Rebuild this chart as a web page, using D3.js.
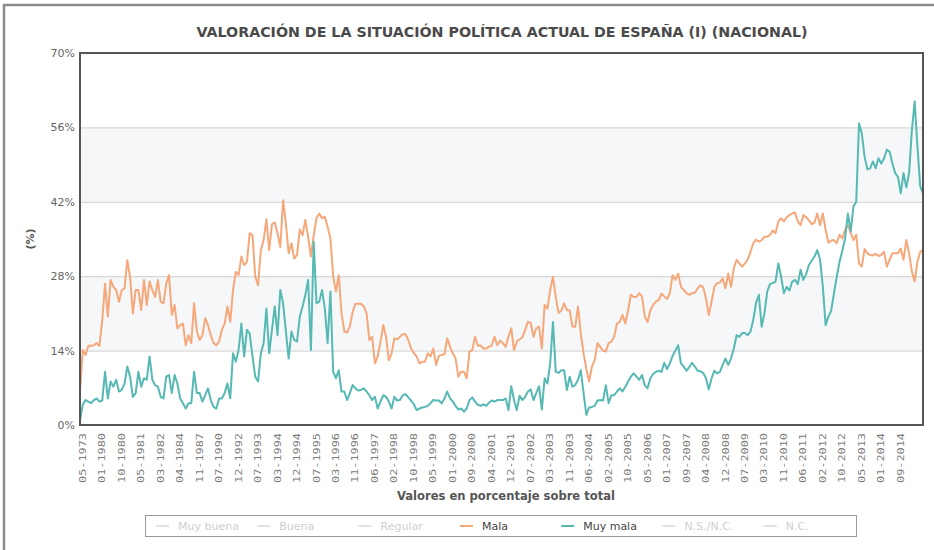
<!DOCTYPE html>
<html>
<head>
<meta charset="UTF-8">
<title>Valoración de la situación política actual de España</title>
<script src="https://cdn.jsdelivr.net/npm/d3@7"></script>
<style>
  body { margin: 0; background: #fff; }
  svg { display: block; font-family: "DejaVu Sans", Verdana, sans-serif; }
</style>
</head>
<body>
<div id="chart"></div>
<script>
// one label every 7 surveys
const tickLabels = ['05-1973', '01-1980', '10-1980', '05-1981', '03-1982', '04-1984', '11-1987', '07-1990',
  '12-1992', '07-1993', '03-1994', '12-1994', '07-1995', '03-1996', '11-1996', '06-1997', '02-1998',
  '10-1998', '05-1999', '01-2000', '09-2000', '04-2001', '12-2001', '07-2002', '03-2003', '11-2003',
  '06-2004', '02-2005', '10-2005', '05-2006', '01-2007', '09-2007', '04-2008', '12-2008', '07-2009',
  '03-2010', '11-2010', '06-2011', '02-2012', '10-2012', '05-2013', '01-2014', '09-2014']
const labelStep = 7

const mala = [
  6.3, 14.1, 13.2, 14.9, 14.9, 15.0, 15.4, 14.9, 19.7, 26.6,
  20.4, 27.3, 26.0, 25.4, 23.2, 25.4, 25.7, 31.0, 27.9, 21.0,
  25.4, 25.4, 21.6, 27.3, 22.6, 27.0, 25.4, 24.1, 27.3, 23.2,
  22.9, 26.6, 28.2, 20.7, 22.6, 18.2, 18.8, 19.1, 15.0, 16.9,
  15.4, 22.9, 17.6, 16.0, 16.9, 20.1, 18.8, 16.9, 15.4, 15.0,
  15.7, 17.9, 19.1, 22.3, 19.4, 25.4, 28.8, 28.2, 31.7, 30.1,
  30.7, 36.1, 35.7, 27.9, 26.3, 32.9, 34.8, 38.7, 32.9, 37.8,
  38.1, 36.1, 33.5, 42.3, 37.9, 32.3, 34.2, 31.3, 32.0, 36.8,
  35.7, 38.6, 35.4, 31.7, 35.7, 38.9, 39.8, 38.9, 39.2, 37.3,
  35.1, 27.9, 25.1, 28.2, 21.0, 17.6, 17.4, 18.5, 21.3, 22.8,
  22.8,
  22.8, 22.3, 21.0, 16.0, 16.6, 11.6, 12.9, 15.7, 18.8, 16.6,
  12.2, 13.5, 16.3, 16.1, 16.6, 17.1, 17.1, 16.0, 14.4, 13.5,
  12.9, 11.6, 11.9, 11.9, 13.5, 12.9, 14.4, 11.3, 13.0, 13.2,
  13.3, 16.3, 14.7, 13.5, 12.5, 9.1, 10.0, 10.0, 8.8, 13.8,
  14.1, 16.6, 14.9, 15.0, 14.4, 14.4, 14.7, 15.0, 16.6, 15.0,
  15.9, 15.4, 14.7, 16.6, 18.2, 14.1, 15.7, 16.1, 16.5, 17.9,
  19.4, 19.2, 16.6, 18.2, 18.5, 14.4, 22.6, 21.9, 25.4, 27.9,
  24.1, 21.1, 21.5, 22.9, 21.6, 21.6, 18.5, 18.5, 22.3, 17.2,
  13.5, 10.5, 8.2, 11.0, 12.2, 15.4, 14.7, 14.0, 13.8, 15.4,
  15.7, 16.6, 19.1, 19.4, 20.7, 19.1, 21.6, 24.5, 24.1, 24.1,
  24.8,
  24.2, 20.4, 19.4, 21.6, 22.6, 23.2, 23.5, 24.7, 24.2, 23.7,
  24.8, 28.2, 27.3, 28.5, 26.0, 25.4, 24.8, 24.5, 24.8, 24.9,
  25.7, 26.3, 25.9, 23.8, 20.7, 23.2, 26.0, 26.7, 26.8, 27.6,
  25.7, 28.5, 26.0, 29.5, 31.1, 30.4, 29.8, 30.4, 31.1, 32.6,
  34.2, 34.9, 34.5, 34.8, 35.4, 35.4, 35.8, 36.6, 36.1, 38.3,
  38.9, 38.3, 39.1, 39.5, 39.8, 40.0, 38.3, 37.6, 39.5, 39.1,
  38.5, 37.8, 38.1, 39.8, 37.6, 39.8, 36.7, 34.3, 34.7, 34.8,
  34.2, 35.8, 35.1, 36.8, 37.6, 36.2, 34.8, 35.8, 30.4, 29.8,
  33.1, 32.3, 32.0, 31.9, 32.2, 31.8, 32.0, 32.6, 29.8, 31.1,
  32.3, 32.3, 32.3, 33.2, 31.1, 34.8, 32.3, 28.9, 27.0, 30.7,
  32.6, 32.9
]

const muyMala = [
  0.9, 3.8, 4.7, 4.4, 4.1, 4.7, 5.0, 4.4, 4.6, 10.0,
  5.0, 8.2, 7.2, 8.5, 6.3, 6.6, 7.8, 11.0, 9.1, 5.3,
  6.0, 10.0, 7.2, 8.8, 8.5, 12.9, 8.5, 7.5, 7.2, 5.3,
  5.0, 9.1, 9.4, 6.0, 9.4, 7.8, 5.0, 4.1, 3.1, 4.1,
  4.1, 10.0, 6.0, 6.0, 4.4, 5.6, 6.9, 4.7, 3.4, 3.1,
  5.0, 5.0, 6.0, 7.8, 5.0, 13.5, 11.9, 14.1, 19.1, 12.9,
  17.9, 17.2, 12.9, 9.1, 8.2, 13.5, 15.4, 21.9, 13.5, 17.9,
  22.3, 16.9, 25.4, 22.9, 17.6, 12.5, 17.6, 16.0, 15.7, 20.4,
  22.3, 24.5, 27.3, 14.1, 34.5, 22.9, 23.2, 25.4, 21.9, 15.4,
  25.1, 10.0, 8.8, 10.3, 6.3, 6.3, 4.7, 6.0, 7.5, 6.9,
  6.5,
  6.6, 6.9, 6.3, 5.6, 4.7, 5.3, 3.1, 4.4, 5.6, 5.3,
  4.4, 3.1, 5.3, 4.6, 4.7, 5.6, 5.8, 5.2, 4.6, 3.9,
  2.8, 3.1, 3.3, 3.4, 3.6, 4.1, 4.7, 4.6, 4.6, 4.1,
  5.0, 6.3, 5.0, 4.4, 3.6, 2.9, 3.1, 2.5, 3.1, 4.7,
  5.2, 4.4, 3.8, 3.6, 3.9, 3.6, 4.2, 4.6, 4.4, 4.7,
  4.7, 4.7, 5.0, 2.8, 7.3, 4.7, 2.8, 5.5, 4.7, 5.3,
  6.3, 6.7, 4.7, 6.0, 7.3, 2.9, 8.8, 7.8, 11.6, 19.4,
  10.0, 9.8, 10.3, 10.3, 6.6, 9.1, 7.2, 7.5, 8.5, 10.3,
  6.0, 1.9, 3.3, 3.4, 3.6, 4.6, 4.7, 4.6, 7.5, 4.1,
  5.6, 5.6, 6.3, 6.9, 6.3, 7.2, 8.2, 9.1, 9.7, 9.1,
  8.5,
  9.4, 7.5, 6.9, 8.8, 9.6, 10.0, 10.2, 10.0, 11.7, 10.5,
  11.6, 13.0, 14.0, 15.0, 11.6, 11.0, 10.2, 10.9, 11.7, 11.0,
  10.2, 10.1, 9.8, 8.8, 6.7, 8.8, 10.2, 9.7, 10.0, 11.3,
  12.5, 11.3, 12.5, 14.4, 16.9, 16.6, 17.3, 17.3, 16.9, 17.6,
  19.8, 23.0, 24.5, 18.5, 21.0, 25.1, 26.5, 26.7, 27.0, 30.4,
  27.9, 24.8, 26.0, 25.3, 27.0, 27.3, 26.5, 29.2, 27.3, 28.4,
  30.1, 30.9, 31.7, 32.9, 31.1, 26.0, 18.8, 20.4, 21.5, 24.8,
  27.9, 30.7, 32.8, 35.1, 39.8, 36.4, 41.1, 42.0, 56.8, 54.9,
  50.5, 48.1, 48.3, 49.6, 48.3, 50.2, 49.2, 50.2, 51.8, 51.4,
  49.2, 47.4, 46.7, 43.6, 47.4, 44.7, 47.4, 55.5, 60.9, 52.4,
  44.9, 43.6
]

const yTicks = [0, 14, 28, 42, 56, 70]
const legendNames = ['Muy buena', 'Buena', 'Regular', 'Mala', 'Muy mala', 'N.S./N.C.', 'N.C.']

const colors = { 'Mala': '#f6a87a', 'Muy mala': '#56b9b3' }

const W = 934, H = 550
const margin = { top: 53, right: 11, bottom: 125, left: 80 }
const width = W - margin.left - margin.right
const height = H - margin.top - margin.bottom

const svg = d3.select('#chart')
  .append('svg')
  .attr('width', W)
  .attr('height', H)

// outer frame of the chart
svg.append('rect')
  .attr('x', 4).attr('y', 5)
  .attr('width', W + 20).attr('height', H + 20)
  .attr('fill', 'none')
  .attr('stroke', '#8c8c8c')
  .attr('stroke-width', 2.5)

const g = svg.append('g')
  .attr('transform', 'translate(' + margin.left + ',' + margin.top + ')')

const x = d3.scaleLinear()
  .domain([0, mala.length - 1])
  .range([0, width])

const y = d3.scaleLinear()
  .domain([0, 70])
  .range([height, 0])

// alternating bands (14-28, 42-56)
g.selectAll('.band')
  .data(yTicks.filter((d, i) => i % 2 === 1 && d < 70))
  .enter().append('rect')
  .attr('x', 0)
  .attr('width', width)
  .attr('y', d => y(d + 14))
  .attr('height', d => y(d) - y(d + 14))
  .attr('fill', '#f6f7f8')

// grid
g.append('g')
  .call(d3.axisLeft(y).tickValues(yTicks.slice(1, -1)).tickSize(-width).tickFormat(''))
  .call(a => a.select('.domain').remove())
  .selectAll('line')
  .attr('stroke', '#cfcfcf')

// y labels
g.append('g')
  .call(d3.axisLeft(y).tickValues(yTicks).tickSize(0).tickPadding(5).tickFormat(d => d + '%'))
  .call(a => a.select('.domain').remove())
  .selectAll('text')
  .attr('font-family', '"DejaVu Sans", Verdana, sans-serif')
  .attr('font-size', 11)
  .attr('fill', '#666')

// x labels
g.append('g')
  .attr('transform', 'translate(0,' + height + ')')
  .call(d3.axisBottom(x)
    .tickValues(tickLabels.map((t, i) => i * labelStep))
    .tickSize(0)
    .tickFormat((d, i) => tickLabels[i]))
  .call(a => a.select('.domain').remove())
  .selectAll('text')
  .attr('font-family', '"DejaVu Sans Mono", monospace')
  .attr('font-size', 9.5)
  .attr('fill', '#7a7a7a')
  .attr('transform', 'rotate(-90)')
  .attr('x', -8)
  .attr('y', 2)
  .attr('dy', '0.35em')
  .attr('text-anchor', 'end')
  .attr('textLength', 50)
  .attr('lengthAdjust', 'spacingAndGlyphs')

const line = d3.line()
  .x((d, i) => x(i))
  .y(d => y(d))

g.append('path')
  .datum(mala)
  .attr('fill', 'none')
  .attr('stroke', colors['Mala'])
  .attr('stroke-width', 2)
  .attr('stroke-linejoin', 'round')
  .attr('d', line)

g.append('path')
  .datum(muyMala)
  .attr('fill', 'none')
  .attr('stroke', colors['Muy mala'])
  .attr('stroke-width', 2)
  .attr('stroke-linejoin', 'round')
  .attr('d', line)

// plot frame
g.append('rect')
  .attr('width', width)
  .attr('height', height)
  .attr('fill', 'none')
  .attr('stroke', '#555')
  .attr('stroke-width', 2)

svg.append('text')
  .attr('x', 502).attr('y', 37)
  .attr('text-anchor', 'middle')
  .attr('font-size', 14)
  .attr('font-weight', 'bold')
  .attr('fill', '#4a4a4a')
  .attr('textLength', 611)
  .attr('lengthAdjust', 'spacingAndGlyphs')
  .text('VALORACIÓN DE LA SITUACIÓN POLÍTICA ACTUAL DE ESPAÑA (I) (NACIONAL)')

svg.append('text')
  .attr('transform', 'translate(34,' + (margin.top + height / 2) + ') rotate(-90)')
  .attr('text-anchor', 'middle')
  .attr('font-size', 11)
  .attr('font-weight', 'bold')
  .attr('fill', '#555')
  .text('(%)')

svg.append('text')
  .attr('x', 506).attr('y', 500)
  .attr('text-anchor', 'middle')
  .attr('font-size', 11.5)
  .attr('font-weight', 'bold')
  .attr('fill', '#555')
  .attr('textLength', 218)
  .attr('lengthAdjust', 'spacingAndGlyphs')
  .text('Valores en porcentaje sobre total')

// legend
const legend = svg.append('g')
legend.append('rect')
  .attr('x', 145.5).attr('y', 515.5)
  .attr('width', 711).attr('height', 21)
  .attr('fill', '#fff')
  .attr('stroke', '#9a9a9a')

const item = legend.selectAll('.item')
  .data(legendNames)
  .enter().append('g')
  .attr('transform', (d, i) => 'translate(' + (178 + i * 101.3) + ',526)')

item.append('line')
  .attr('x1', -22).attr('x2', -9)
  .attr('stroke', d => colors[d] || '#e2e2e2')
  .attr('stroke-width', 2)

item.append('text')
  .attr('dy', '0.35em')
  .attr('font-size', 11)
  .attr('fill', d => colors[d] ? '#444' : '#cfcfcf')
  .text(d => d)
</script>
</body>
</html>
